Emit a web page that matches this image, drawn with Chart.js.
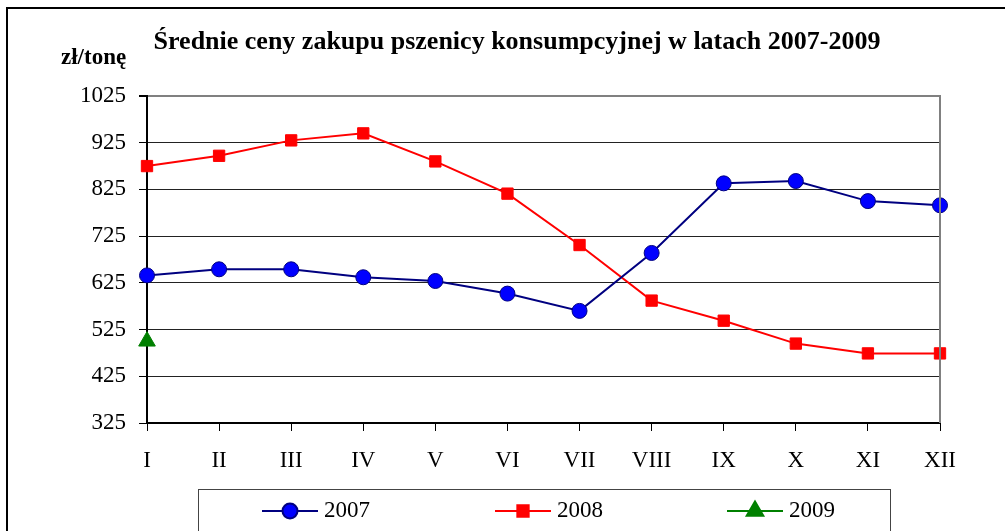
<!DOCTYPE html>
<html>
<head>
<meta charset="utf-8">
<script src="https://cdn.jsdelivr.net/npm/chart.js@4"></script>
<style>
  html, body { margin: 0; padding: 0; background: #fff; }
  #wrap { width: 1005px; height: 531px; position: relative; }
</style>
</head>
<body>
<div id="wrap"><canvas id="chart" width="1005" height="531"></canvas></div>
<script>
const months = ['I', 'II', 'III', 'IV', 'V', 'VI', 'VII', 'VIII', 'IX', 'X', 'XI', 'XII'];
const prices2007 = [641, 654, 654, 637, 629, 602, 565, 689, 838, 843, 800, 791];
const prices2008 = [875, 897, 930, 945, 885, 816, 706, 587, 544, 495, 474, 474];
const prices2009 = [500, null, null, null, null, null, null, null, null, null, null, null];
const yTicks = [325, 425, 525, 625, 725, 825, 925, 1025];
const chartTitle = 'Średnie ceny zakupu pszenicy konsumpcyjnej w latach 2007-2009';
const unitLabel = 'zł/tonę';

const serif = '"Liberation Serif", "Times New Roman", serif';

// ramka, tytuł, opis osi Y, prawa krawędź i legenda w ramce
const extras = {
  id: 'extras',
  afterDraw(chart) {
    const ctx = chart.ctx;
    const area = chart.chartArea;
    ctx.save();

    ctx.strokeStyle = '#808080';
    ctx.lineWidth = 2;
    ctx.beginPath();
    ctx.moveTo(area.right, area.top - 1);
    ctx.lineTo(area.right, area.bottom);
    ctx.stroke();

    // zewnętrzna ramka (prawa i dolna krawędź poza obrazem)
    ctx.strokeStyle = '#000';
    ctx.lineWidth = 2;
    ctx.beginPath();
    ctx.moveTo(7, 540);
    ctx.lineTo(7, 8);
    ctx.lineTo(1010, 8);
    ctx.stroke();

    ctx.fillStyle = '#000';
    ctx.font = 'bold 26px ' + serif;
    ctx.textAlign = 'center';
    ctx.textBaseline = 'middle';
    ctx.fillText(chartTitle, 517, 42);

    ctx.font = 'bold 23px ' + serif;
    ctx.textAlign = 'left';
    ctx.fillText(unitLabel, 61, 58);

    // legenda
    const boxLeft = area.left + 51;
    const boxTop = area.bottom + 66;
    ctx.strokeStyle = '#444';
    ctx.lineWidth = 1;
    ctx.strokeRect(boxLeft + 0.5, boxTop + 0.5, 692, 80);

    const starts = [115, 348, 580];
    const y = boxTop + 22;
    chart.data.datasets.forEach((ds, i) => {
      const x0 = area.left + starts[i];
      ctx.strokeStyle = ds.borderColor;
      ctx.lineWidth = 2;
      ctx.beginPath();
      ctx.moveTo(x0, y);
      ctx.lineTo(x0 + 56, y);
      ctx.stroke();
      ctx.fillStyle = ds.pointBackgroundColor;
      ctx.strokeStyle = ds.pointBorderColor;
      Chart.helpers.drawPoint(ctx, {
        pointStyle: ds.pointStyle,
        radius: ds.pointRadius,
        rotation: 0,
        borderWidth: ds.pointBorderWidth
      }, x0 + 28, y);
      ctx.fillStyle = '#000';
      ctx.font = '23px ' + serif;
      ctx.textAlign = 'left';
      ctx.textBaseline = 'middle';
      ctx.fillText(ds.label, x0 + 62, y);
    });
    ctx.restore();
  }
};

new Chart(document.getElementById('chart'), {
  type: 'line',
  data: {
    labels: months,
    datasets: [
      {
        label: '2007',
        data: prices2007,
        borderColor: '#000080',
        borderWidth: 2,
        pointStyle: 'circle',
        pointRadius: 7.5,
        pointBackgroundColor: '#0000FF',
        pointBorderColor: '#000080',
        pointBorderWidth: 1,
        clip: false
      },
      {
        label: '2008',
        data: prices2008,
        borderColor: '#FF0000',
        borderWidth: 2,
        pointStyle: 'rect',
        pointRadius: 8,
        pointBackgroundColor: '#FF0000',
        pointBorderColor: '#FF0000',
        pointBorderWidth: 1,
        clip: false
      },
      {
        label: '2009',
        data: prices2009,
        borderColor: '#008000',
        borderWidth: 2,
        pointStyle: 'triangle',
        pointRadius: 9.6,
        pointBackgroundColor: '#008000',
        pointBorderColor: '#008000',
        pointBorderWidth: 1,
        clip: false
      }
    ]
  },
  options: {
    responsive: false,
    animation: false,
    layout: { padding: { left: 40, right: 65, top: 96, bottom: 53 } },
    plugins: {
      legend: { display: false },
      tooltip: { enabled: false },
      title: { display: false }
    },
    scales: {
      x: {
        offset: false,
        afterFit(scale) { scale.height = 55; },
        grid: { drawOnChartArea: false, drawTicks: true, tickLength: 8, tickColor: '#000' },
        border: { color: '#000', width: 2 },
        ticks: { color: '#000', font: { family: serif, size: 23 }, padding: 16, maxRotation: 0, autoSkip: false }
      },
      y: {
        min: 325,
        max: 1025,
        afterFit(scale) { scale.width = 107; },
        afterBuildTicks(scale) { scale.ticks = yTicks.map(v => ({ value: v })); },
        grid: {
          color: ctx => ctx.tick && ctx.tick.value === 1025 ? '#808080' : '#222',
          lineWidth: ctx => ctx.tick && ctx.tick.value === 1025 ? 2 : 1,
          tickLength: 8,
          tickColor: '#000'
        },
        border: { color: '#000', width: 2 },
        ticks: { color: '#000', font: { family: serif, size: 23 }, padding: 13, callback: v => String(v) }
      }
    }
  },
  plugins: [extras]
});
</script>
</body>
</html>
